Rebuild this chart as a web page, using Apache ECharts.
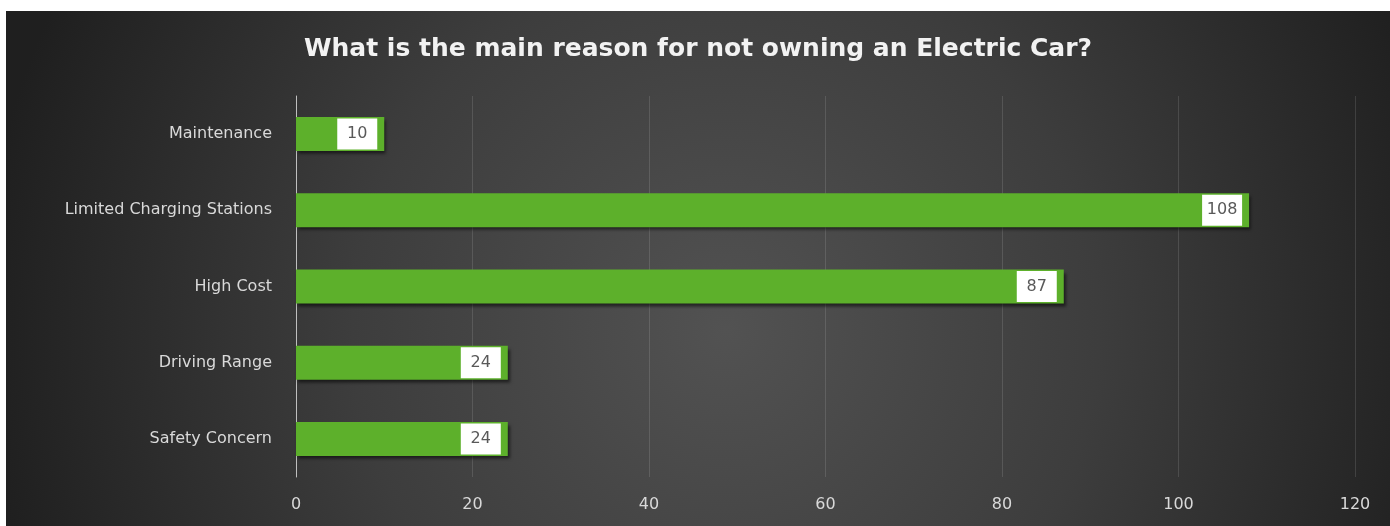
<!DOCTYPE html>
<html>
<head>
<meta charset="utf-8">
<script src="https://cdn.jsdelivr.net/npm/echarts@6/dist/echarts.min.js"></script>
<style>
  html, body { margin: 0; padding: 0; background: #ffffff; }
  #chart { position: absolute; left: 6px; top: 11px; width: 1384px; height: 515px; }
</style>
</head>
<body>
<div id="chart"></div>
<script>
// Survey answers, listed top to bottom
const reasons = ['Maintenance', 'Limited Charging Stations', 'High Cost', 'Driving Range', 'Safety Concern'];
const responses = [10, 108, 87, 24, 24];
const xTicks = [0, 20, 40, 60, 80, 100, 120];

const chart = echarts.init(document.getElementById('chart'));

chart.setOption({
  backgroundColor: {
    type: 'radial', x: 0.52, y: 0.62, r: 1.45,
    colorStops: [
      { offset: 0, color: '#525252' },
      { offset: 0.5, color: '#3d3d3d' },
      { offset: 1, color: '#1f1f1f' }
    ]
  },
  title: {
    text: 'What is the main reason for not owning an Electric Car?',
    left: 'center',
    top: 21,
    textStyle: {
      fontFamily: 'DejaVu Sans',
      fontWeight: 'bold',
      fontSize: 25,
      color: '#f2f2f2'
    }
  },
  grid: { left: 290, right: 35, top: 85, bottom: 49, containLabel: false },
  xAxis: {
    type: 'value',
    min: xTicks[0],
    max: xTicks[xTicks.length - 1],
    interval: xTicks[1] - xTicks[0],
    axisLine: { show: false },
    axisTick: { show: false },
    splitLine: { show: true, lineStyle: { color: 'rgba(255,255,255,0.12)', width: 1 } },
    axisLabel: {
      margin: 20,
      color: '#d9d9d9',
      fontFamily: 'DejaVu Sans',
      fontSize: 16
    }
  },
  yAxis: {
    type: 'category',
    data: reasons,
    inverse: true,
    axisLine: { show: true, lineStyle: { color: '#bfbfbf', width: 1 } },
    axisTick: { show: false },
    axisLabel: {
      margin: 24,
      color: '#d9d9d9',
      fontFamily: 'DejaVu Sans',
      fontSize: 16
    }
  },
  series: [{
    type: 'bar',
    data: responses,
    barWidth: 34,
    itemStyle: {
      color: '#5db02b',
      shadowColor: 'rgba(0,0,0,0.55)',
      shadowBlur: 3,
      shadowOffsetX: 2,
      shadowOffsetY: 3
    },
    label: {
      show: true,
      position: 'insideRight',
      distance: 7,
      formatter: '{v|{c}}',
      rich: {
        v: {
          backgroundColor: '#ffffff',
          width: 40,
          height: 31,
          lineHeight: 31,
          align: 'center',
          color: '#595959',
          fontFamily: 'DejaVu Sans',
          fontSize: 16
        }
      }
    },
    emphasis: { disabled: true },
    animation: false
  }]
});
</script>
</body>
</html>
